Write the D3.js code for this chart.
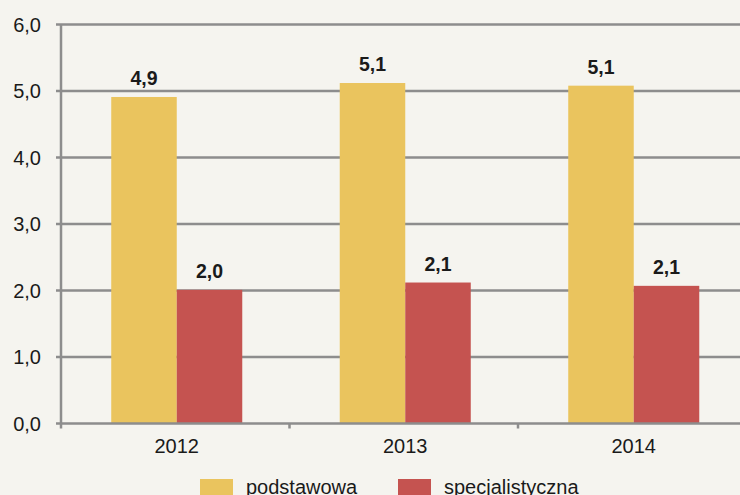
<!DOCTYPE html>
<html>
<head>
<meta charset="utf-8">
<script src="https://cdn.jsdelivr.net/npm/d3@7"></script>
<style>
  html, body { margin: 0; padding: 0; background: #f5f4ef; }
  svg { display: block; font-family: 'Liberation Sans', Arial, sans-serif; }
</style>
</head>
<body>
<div id="chart"></div>
<script>
const years = ['2012', '2013', '2014'];
const seriesNames = ['podstawowa', 'specjalistyczna'];
const podstawowa = [4.91, 5.12, 5.08];
const specjalistyczna = [2.01, 2.12, 2.07];
const yTicks = [0, 1, 2, 3, 4, 5, 6];

const width = 740;
const height = 495;
const colors = { podstawowa: '#eac45e', specjalistyczna: '#c55350' };
const fmt = v => d3.format('.1f')(v).replace('.', ',');

const rows = years.map((y, i) => ({ year: y, podstawowa: podstawowa[i], specjalistyczna: specjalistyczna[i] }));

const svg = d3.select('#chart')
  .append('svg')
  .attr('width', width)
  .attr('height', height);

svg.append('rect')
  .attr('width', width)
  .attr('height', height)
  .attr('fill', '#f5f4ef');

const x0 = d3.scaleBand()
  .domain(years)
  .range([61, 746.5]);

const x1 = d3.scaleBand()
  .domain(seriesNames)
  .range([0, x0.bandwidth()])
  .paddingOuter(0.744);

const y = d3.scaleLinear()
  .domain([0, 6])
  .range([423.5, 24.5]);

// gridlines
svg.append('g')
  .selectAll('line')
  .data(yTicks.slice(1))
  .enter()
  .append('line')
  .attr('x1', 56)
  .attr('x2', width)
  .attr('y1', d => y(d))
  .attr('y2', d => y(d))
  .attr('stroke', '#8d8d8d')
  .attr('stroke-width', 2.5);

// y labels
svg.append('g')
  .selectAll('text')
  .data(yTicks)
  .enter()
  .append('text')
  .attr('x', 41)
  .attr('y', d => y(d))
  .attr('dy', '0.36em')
  .attr('text-anchor', 'end')
  .attr('font-size', '20px')
  .attr('fill', '#1a1a1a')
  .text(d => fmt(d));

// bars
const group = svg.append('g')
  .selectAll('g')
  .data(rows)
  .enter()
  .append('g')
  .attr('transform', d => `translate(${x0(d.year) + 1.5},0)`);

group.selectAll('rect')
  .data(d => seriesNames.map(k => ({ key: k, value: d[k] })))
  .enter()
  .append('rect')
  .attr('x', d => x1(d.key))
  .attr('y', d => y(d.value))
  .attr('width', x1.bandwidth())
  .attr('height', d => y(0) - y(d.value))
  .attr('fill', d => colors[d.key]);

group.selectAll('text')
  .data(d => seriesNames.map(k => ({ key: k, value: d[k] })))
  .enter()
  .append('text')
  .attr('x', d => x1(d.key) + x1.bandwidth() / 2)
  .attr('y', d => y(d.value) - 12)
  .attr('text-anchor', 'middle')
  .attr('font-size', '19.5px')
  .attr('font-weight', 700)
  .attr('fill', '#1a1a1a')
  .text(d => fmt(d.value));

// axes lines
svg.append('line')
  .attr('x1', 61).attr('x2', 61)
  .attr('y1', y(6)).attr('y2', y(0))
  .attr('stroke', '#8d8d8d')
  .attr('stroke-width', 2.5);

svg.append('line')
  .attr('x1', 56).attr('x2', width)
  .attr('y1', y(0)).attr('y2', y(0))
  .attr('stroke', '#8d8d8d')
  .attr('stroke-width', 2.5);

// x ticks at band edges
svg.append('g')
  .selectAll('line')
  .data(years)
  .enter()
  .append('line')
  .attr('x1', d => x0(d))
  .attr('x2', d => x0(d))
  .attr('y1', y(0))
  .attr('y2', y(0) + 5)
  .attr('stroke', '#8d8d8d')
  .attr('stroke-width', 2.5);

svg.append('g')
  .selectAll('text')
  .data(years)
  .enter()
  .append('text')
  .attr('x', d => x0(d) + x0.bandwidth() / 2 + 1.5)
  .attr('y', 453)
  .attr('text-anchor', 'middle')
  .attr('font-size', '20px')
  .attr('fill', '#1a1a1a')
  .text(d => d);

// legend
const legendX = [200, 398];
const legend = svg.append('g')
  .selectAll('g')
  .data(seriesNames)
  .enter()
  .append('g')
  .attr('transform', (d, i) => `translate(${legendX[i]},479)`);

legend.append('rect')
  .attr('width', 33)
  .attr('height', 20)
  .attr('fill', d => colors[d]);

legend.append('text')
  .attr('x', 46)
  .attr('y', 14.5)
  .attr('font-size', '20px')
  .attr('fill', '#1a1a1a')
  .text(d => d);
</script>
</body>
</html>
